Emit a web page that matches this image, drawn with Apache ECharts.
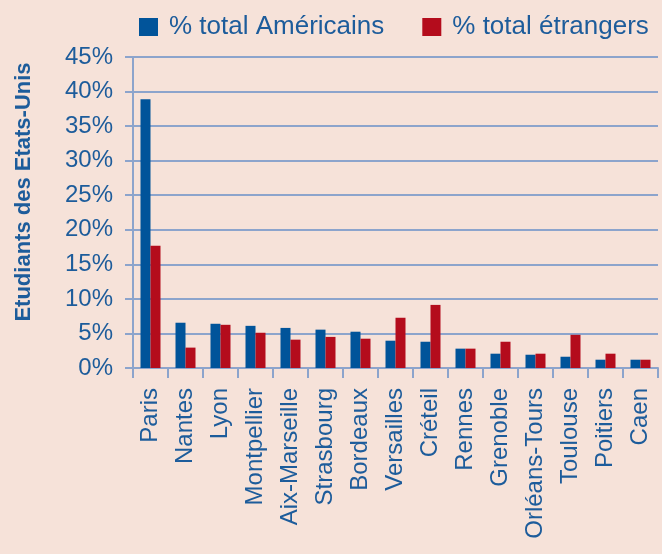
<!DOCTYPE html>
<html>
<head>
<meta charset="utf-8">
<script src="https://cdn.jsdelivr.net/npm/echarts@6/dist/echarts.min.js"></script>
<style>
html,body{margin:0;padding:0;background:#f6e2d9;}
#chart{width:662px;height:554px;}
</style>
</head>
<body>
<div id="chart"></div>
<script>
const categories = ['Paris','Nantes','Lyon','Montpellier','Aix-Marseille','Strasbourg','Bordeaux','Versailles','Créteil','Rennes','Grenoble','Orléans-Tours','Toulouse','Poitiers','Caen'];
const americains = [38.9, 6.55, 6.4, 6.1, 5.8, 5.55, 5.25, 3.95, 3.8, 2.8, 2.07, 1.92, 1.63, 1.2, 1.2];
const etrangers  = [17.7, 2.95, 6.25, 5.1, 4.1, 4.5, 4.24, 7.27, 9.13, 2.8, 3.8, 2.07, 4.8, 2.07, 1.2];
const seriesNames = ['% total Américains', '% total étrangers'];
const yAxisTitle = 'Etudiants des Etats-Unis';

const textColor = '#1d5c9b';
const lineColor = '#8ca4cc';
const font = '"Liberation Sans", Arial, sans-serif';

const chart = echarts.init(document.getElementById('chart'), null, {renderer:'canvas'});
chart.setOption({
  backgroundColor: '#f6e2d9',
  animation: false,
  textStyle: {fontFamily: font},
  legend: {
    left: 134, top: 9,
    icon: 'rect', itemWidth: 19, itemHeight: 18, itemGap: 38,
    textStyle: {color: textColor, fontSize: 26, fontFamily: font, padding: [0,0,0,6]},
    data: seriesNames
  },
  graphic: [{
    type: 'text',
    x: 24, y: 192, rotation: Math.PI/2,
    style: {
      text: yAxisTitle, fill: textColor,
      font: 'bold 22px "Liberation Sans", Arial, sans-serif',
      align: 'center', verticalAlign: 'middle'
    }
  }],
  grid: {left: 133, right: 4, top: 57, bottom: 186, containLabel: false},
  xAxis: {
    type: 'category', data: categories,
    axisLine: {lineStyle: {color: lineColor, width: 2}},
    axisTick: {show: true, length: 10, lineStyle: {color: lineColor, width: 2}},
    axisLabel: {rotate: 90, color: textColor, fontSize: 24, margin: 20, interval: 0}
  },
  yAxis: {
    type: 'value', min: 0, max: 45, interval: 5,
    axisLine: {show: true, lineStyle: {color: lineColor, width: 2}},
    axisTick: {show: true, length: 8, lineStyle: {color: lineColor, width: 2}},
    splitLine: {show: true, lineStyle: {color: lineColor, width: 2}},
    axisLabel: {formatter: '{value}%', color: textColor, fontSize: 24, margin: 20}
  },
  series: [
    {name: seriesNames[0], type: 'bar', data: americains, barWidth: 10, barGap: '0%', itemStyle: {color: '#01549a'}},
    {name: seriesNames[1], type: 'bar', data: etrangers, barWidth: 10, barGap: '0%', itemStyle: {color: '#b40c1c'}}
  ]
});
</script>
</body>
</html>
